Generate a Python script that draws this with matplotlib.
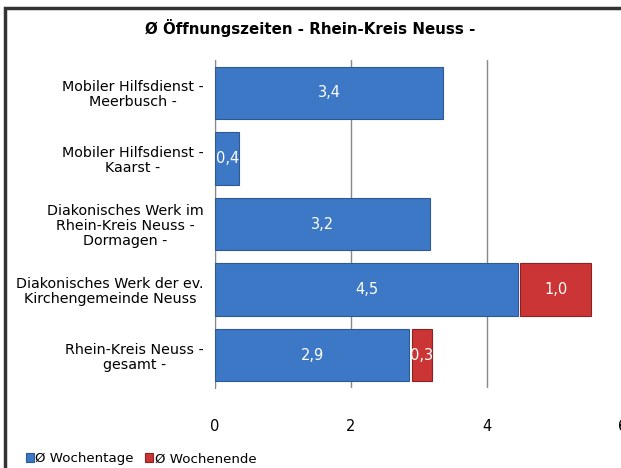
import matplotlib
matplotlib.use("Agg")

import matplotlib.pyplot as plt
from matplotlib.patches import Rectangle
import numpy as np


categories = [
    "Mobiler Hilfsdienst -\nMeerbusch -",
    "Mobiler Hilfsdienst -\nKaarst -",
    "Diakonisches Werk im\nRhein-Kreis Neuss -\nDormagen -",
    "Diakonisches Werk der ev.\nKirchengemeinde Neuss",
    "Rhein-Kreis Neuss -\ngesamt -",
]
wochentage = [3.36, 0.36, 3.16, 4.46, 2.86]
wochenende = [0.0, 0.0, 0.0, 1.04, 0.30]
series_names = ["Ø Wochentage", "Ø Wochenende"]
xticks = [0, 2, 4, 6]

BLUE = "#3D78C6"
RED = "#CB3535"

fig = plt.figure(figsize=(6.21, 4.68), dpi=100)
ax = fig.add_axes([215 / 621, 1 - 388 / 468, 408 / 621, 328 / 468])

y = np.arange(len(categories))
ax.barh(y, wochentage, height=0.8, color=BLUE, edgecolor="#2C5A96",
        linewidth=0.8, zorder=3, label=series_names[0])
we = np.array(wochenende)
mask = we > 0
ax.barh(y[mask], we[mask], left=np.array(wochentage)[mask] + 0.03,
        height=0.8, color=RED, edgecolor="#8E2222", linewidth=0.8,
        zorder=3, label=series_names[1])

for i in range(len(categories)):
    ax.text(wochentage[i] / 2, y[i], f"{wochentage[i]:.1f}".replace(".", ","),
            ha="center", va="center", color="white", fontsize=10.5, zorder=4)
    if wochenende[i] > 0:
        ax.text(wochentage[i] + 0.03 + wochenende[i] / 2, y[i],
                f"{wochenende[i]:.1f}".replace(".", ","),
                ha="center", va="center", color="white", fontsize=10.5, zorder=4)

ax.set_xlim(0, 6)
ax.set_ylim(len(categories) - 0.5, -0.5)
ax.set_xticks(xticks)
ax.set_xticklabels([str(t) for t in xticks], fontsize=10.5)
ax.set_yticks(y)
ax.set_yticklabels(categories, fontsize=10.3, multialignment="center",
                   linespacing=1.1)
ax.tick_params(axis="x", length=0, pad=22)
ax.tick_params(axis="y", length=0, pad=8)
ax.grid(axis="x", color="#888888", linewidth=1, zorder=0)
for s in ["top", "right", "bottom"]:
    ax.spines[s].set_visible(False)
ax.spines["left"].set_color("#888888")

fig.text(0.5, 1 - 28 / 468, "Ø Öffnungszeiten - Rhein-Kreis Neuss -",
         ha="center", va="center", fontsize=10.8, fontweight="bold")

leg = fig.legend(loc="lower left", bbox_to_anchor=(0.022, -0.02), ncol=2,
                 frameon=False, fontsize=9.6, handlelength=0.6,
                 handleheight=0.6, handletextpad=0.1, columnspacing=0.9)

fig.patches.append(Rectangle((5 / 621, -0.1), 1.2, 1 - 8 / 468 + 0.1,
                             transform=fig.transFigure, fill=False,
                             edgecolor="#333333", linewidth=2.5))

fig.savefig("out.png", dpi=100)
